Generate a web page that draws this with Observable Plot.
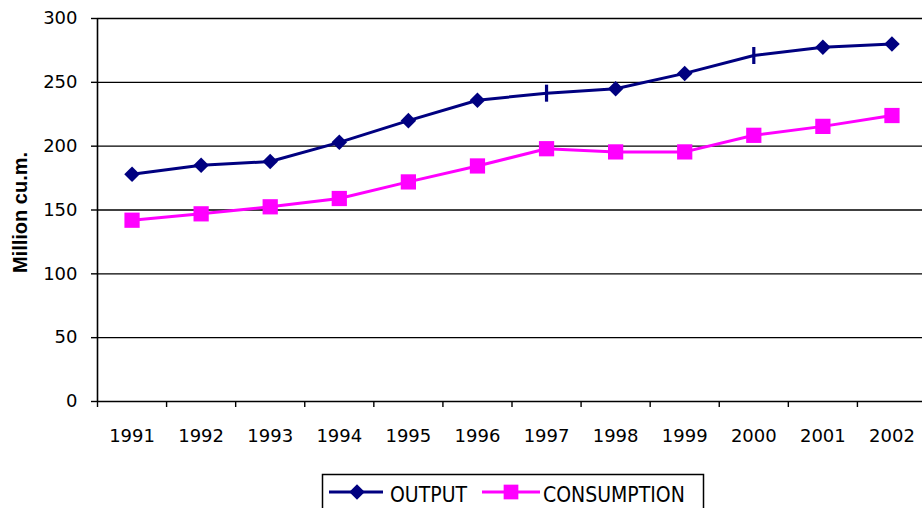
<!DOCTYPE html>
<html><head><meta charset="utf-8">
<script src="https://cdn.jsdelivr.net/npm/d3@7"></script>
<script src="https://cdn.jsdelivr.net/npm/@observablehq/plot@0.6"></script>
<style>
html,body{margin:0;padding:0;background:#fff;}
body{width:922px;height:508px;overflow:hidden;}
#chart svg,#legend svg{display:block;}
</style></head><body>
<div id="chart"></div>
<div id="legend"></div>
<script>
const years = [1991, 1992, 1993, 1994, 1995, 1996, 1997, 1998, 1999, 2000, 2001, 2002];
const outputValues = [178, 185, 188, 203, 220, 236, 241.5, 245, 257, 271, 277.5, 280];
const consumptionValues = [142, 147, 152.5, 159, 172, 184.5, 198, 195.5, 195.5, 208.5, 215.5, 224];
const yTicks = [0, 50, 100, 150, 200, 250, 300];
const seriesNames = ["OUTPUT", "CONSUMPTION"];
const yLabel = "Million cu.m.";
const barMarkerYears = [1997, 2000];

const outputData = years.map((year, i) => ({year, value: outputValues[i]}));
const consumptionData = years.map((year, i) => ({year, value: consumptionValues[i]}));
const boundaries = years.map(y => y - 0.5);

const NAVY = "#000080", MAGENTA = "#FF00FF";
const vbar = {draw(ctx) { ctx.rect(-1.6, -8.5, 3.2, 17); }};

const chart = Plot.plot({
  width: 922, height: 460,
  marginLeft: 97, marginRight: 0, marginTop: 18, marginBottom: 59,
  x: {domain: [years[0] - 0.5, years[years.length - 1] + 0.5], range: [97, 926]},
  y: {domain: [0, 300]},
  style: {fontFamily: "'DejaVu Sans', Verdana, sans-serif", fontSize: "18px", color: "#000", background: "#fff", overflow: "visible"},
  marks: [
    Plot.ruleY(yTicks, {stroke: "#000", strokeWidth: 1.4}),
    Plot.ruleX([boundaries[0]], {y1: 0, y2: 300, stroke: "#000", strokeWidth: 1.6}),
    Plot.axisY(yTicks, {tickSize: 6, tickPadding: 14, fontSize: 18, strokeWidth: 1.4, tickFormat: d => String(d), label: null}),
    Plot.axisX(boundaries, {tickSize: 6, strokeWidth: 1.4, tickFormat: () => "", label: null}),
    Plot.axisX(years, {tickSize: 0, tickPadding: 28, fontSize: 18, tickFormat: d => String(d), label: null}),
    Plot.line(outputData, {x: "year", y: "value", stroke: NAVY, strokeWidth: 3}),
    Plot.dot(outputData.filter(d => !barMarkerYears.includes(d.year)), {x: "year", y: "value", symbol: "diamond2", r: 7.0, fill: NAVY, stroke: "none"}),
    Plot.dot(outputData.filter(d => barMarkerYears.includes(d.year)), {x: "year", y: "value", symbol: vbar, r: 5, fill: NAVY, stroke: "none"}),
    Plot.line(consumptionData, {x: "year", y: "value", stroke: MAGENTA, strokeWidth: 3}),
    Plot.dot(consumptionData, {x: "year", y: "value", symbol: "square", r: 8.6, fill: MAGENTA, stroke: "none"}),
    Plot.text([yLabel], {frameAnchor: "left", textAnchor: "middle", lineAnchor: "middle", dx: -77, dy: 2.5, rotate: -90, fontFamily: "'Liberation Sans', Arial, sans-serif", fontWeight: "bold", fontSize: 20, fill: "#000"})
  ]
});
document.getElementById("chart").appendChild(chart);

// Legend
const lg = d3.select("#legend").append("svg").attr("width", 922).attr("height", 48);
lg.append("rect").attr("x", 322.5).attr("y", 14.5).attr("width", 381).attr("height", 60)
  .attr("fill", "#fff").attr("stroke", "#000").attr("stroke-width", 1.5);
const items = [
  {name: seriesNames[0], color: NAVY, x1: 329, x2: 383, cx: 357, tx: 390, sym: d3.symbolDiamond2, size: Math.PI * 7.0 * 7.0},
  {name: seriesNames[1], color: MAGENTA, x1: 482, x2: 540, cx: 511, tx: 543, sym: d3.symbolSquare, size: Math.PI * 8.3 * 8.3}
];
for (const it of items) {
  lg.append("line").attr("x1", it.x1).attr("x2", it.x2).attr("y1", 32).attr("y2", 32)
    .attr("stroke", it.color).attr("stroke-width", 3);
  lg.append("path").attr("d", d3.symbol(it.sym, it.size)()).attr("transform", `translate(${it.cx},32)`).attr("fill", it.color);
  lg.append("text").attr("x", it.tx).attr("y", 42).text(it.name)
    .attr("font-family", "'DejaVu Sans Condensed', 'Liberation Sans Narrow', sans-serif").attr("font-size", 21).attr("fill", "#000");
}
</script>
</body></html>
